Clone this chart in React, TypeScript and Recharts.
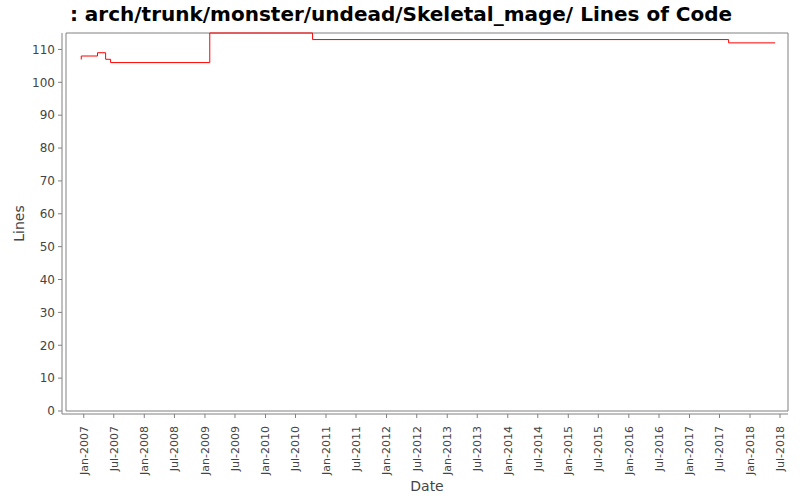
import { LineChart, Line, XAxis, YAxis, ReferenceArea } from 'recharts';

// step points of the Lines-of-Code history (date, lines)
const dates = [
  '2006-12-15', '2006-12-17', '2007-03-25', '2007-05-13', '2007-06-12',
  '2009-01-30', '2010-10-12', '2017-08-25', '2018-06-01',
];
const lines = [107, 108, 109, 107, 106, 115, 113, 112, 112];

const tickLabels = [
  'Jan-2007', 'Jul-2007', 'Jan-2008', 'Jul-2008', 'Jan-2009', 'Jul-2009',
  'Jan-2010', 'Jul-2010', 'Jan-2011', 'Jul-2011', 'Jan-2012', 'Jul-2012',
  'Jan-2013', 'Jul-2013', 'Jan-2014', 'Jul-2014', 'Jan-2015', 'Jul-2015',
  'Jan-2016', 'Jul-2016', 'Jan-2017', 'Jul-2017', 'Jan-2018', 'Jul-2018',
];
const yTicks = [0, 10, 20, 30, 40, 50, 60, 70, 80, 90, 100, 110];
const xRange = ['2006-09-16', '2018-08-18'];
const yMax = 115;

const MONTHS = ['Jan', 'Feb', 'Mar', 'Apr', 'May', 'Jun', 'Jul', 'Aug', 'Sep', 'Oct', 'Nov', 'Dec'];

const toTime = (s: string) => {
  const [y, m, d] = s.split('-').map(Number);
  return Date.UTC(y, m - 1, d);
};
const labelToTime = (l: string) => {
  const [mon, yr] = l.split('-');
  return Date.UTC(Number(yr), MONTHS.indexOf(mon), 1);
};

const data = dates.map((d, i) => ({ t: toTime(d), lines: lines[i] }));
const xTicks = tickLabels.map(labelToTime);
const xMin = toTime(xRange[0]);
const xMax = toTime(xRange[1]);

const fmt = (v: number) => {
  const d = new Date(v);
  return `${MONTHS[d.getUTCMonth()]}-${d.getUTCFullYear()}`;
};

const FONT = '"DejaVu Sans", sans-serif';
const GRAY = '#808080';
const TEXT = '#444444';

const DateTick = (props: any) => {
  const { x, y, payload } = props;
  return (
    <g transform={`translate(${x},${y})`}>
      <text
        transform="rotate(-90)"
        textAnchor="end"
        dy="0.35em"
        fontSize={11}
        fontFamily={FONT}
        fill={TEXT}
      >
        {fmt(payload.value)}
      </text>
    </g>
  );
};

const App = () => {
  return (
    <div style={{ position: 'absolute', left: 0, top: 0, width: 800, height: 500, background: '#fff' }}>
      <svg width={800} height={30} style={{ position: 'absolute', left: 0, top: 0 }}>
        <text x={401} y={21} textAnchor="middle" fontFamily={FONT} fontWeight="bold" fontSize={20} fill="#000">
          : arch/trunk/monster/undead/Skeletal_mage/ Lines of Code
        </text>
      </svg>
      <LineChart width={800} height={500} data={data} margin={{ top: 33, right: 12, bottom: 0, left: 0 }}>
        <XAxis
          dataKey="t"
          type="number"
          domain={[xMin, xMax]}
          allowDataOverflow
          ticks={xTicks}
          interval={0}
          height={86}
          padding={{ left: 4, right: 0 }}
          stroke={GRAY}
          tickSize={4}
          tickMargin={8}
          tick={<DateTick />}
          label={{
            content: (p: any) => (
              <text
                x={p.viewBox.x + p.viewBox.width / 2 + 2}
                y={p.viewBox.y + 77}
                textAnchor="middle"
                fontSize={14}
                fontFamily={FONT}
                fill={TEXT}
              >
                Date
              </text>
            ),
          }}
        />
        <YAxis
          type="number"
          domain={[0, yMax]}
          ticks={yTicks}
          interval={0}
          width={62}
          padding={{ top: 0, bottom: 3 }}
          stroke={GRAY}
          tickSize={4}
          tickMargin={3}
          tick={{ fontSize: 12, fontFamily: FONT, fill: TEXT }}
          label={{
            content: (p: any) => {
              const cx = 24;
              const cy = p.viewBox.y + p.viewBox.height / 2;
              return (
                <text
                  x={cx}
                  y={cy}
                  transform={`rotate(-90 ${cx} ${cy})`}
                  textAnchor="middle"
                  fontSize={14}
                  fontFamily={FONT}
                  fill={TEXT}
                >
                  Lines
                </text>
              );
            },
          }}
        />
        <ReferenceArea x1={xMin} x2={xMax} y1={0} y2={yMax} fill="none" stroke={GRAY} strokeWidth={1} />
        <Line
          type="stepAfter"
          dataKey="lines"
          stroke="#ff0000"
          strokeWidth={1}
          dot={false}
          isAnimationActive={false}
        />
      </LineChart>
    </div>
  );
};

export default App;
